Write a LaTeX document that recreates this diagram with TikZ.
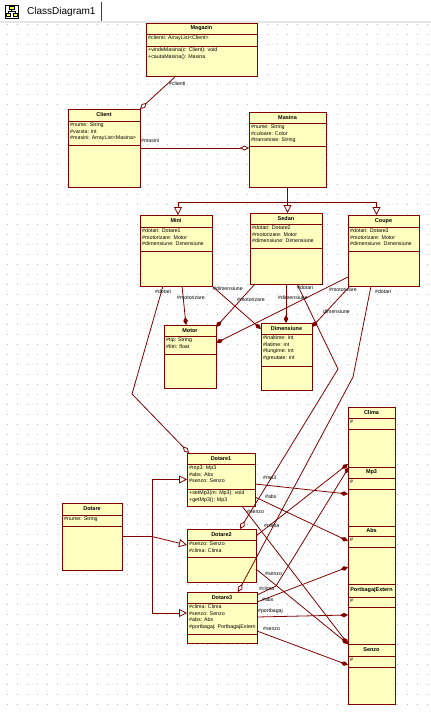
\documentclass[tikz,border=0pt]{standalone}
\usepackage{fontspec}
\setmainfont{Liberation Sans}
\usetikzlibrary{arrows.meta}
\definecolor{dred}{RGB}{128,0,0}
\definecolor{cfill}{RGB}{255,255,192}
\tikzset{
  cbox/.style={draw=dred, fill=cfill, line width=0.9pt, inner sep=0pt, outer sep=0pt},
  csep/.style={draw=dred, line width=0.9pt},
  ctitle/.style={font=\fontsize{5.5}{6.6}\selectfont\bfseries, inner sep=0pt},
  ctext/.style={font=\fontsize{5.3}{6.6}\selectfont, inner sep=0pt, align=left, anchor=north west},
  conn/.style={draw=dred, line width=0.8pt},
  agg/.style={conn, -{Diamond[length=9pt,width=5pt,fill=white]}},
  comp/.style={conn, -{Diamond[length=8pt,width=4.5pt]}},
  gen/.style={conn, -{Triangle[length=8pt,width=8pt,fill=white]}},
  lbl/.style={font=\fontsize{5.2}{6}\selectfont, inner sep=0pt, anchor=west},
}
% name, x/y of top-left, width, height, title sep, attr sep, title, attrs, methods
\newcommand\uclass[9]{%
  \node[cbox, minimum width=#3pt, minimum height=#4pt, anchor=north west] (#1) at (#2) {};
  \draw[csep] ([yshift=-#5pt]#1.north west) -- ([yshift=-#5pt]#1.north east);
  \draw[csep] ([yshift=-#6pt]#1.north west) -- ([yshift=-#6pt]#1.north east);
  \node[ctitle] (#1-t) at ([yshift={-0.5*#5pt}]#1.north) {#7};
  \node[ctext] (#1-a) at ([xshift=2pt,yshift={-#5pt-1.6pt}]#1.north west) {#8};
  \node[ctext] (#1-m) at ([xshift=2pt,yshift={-#6pt-1.6pt}]#1.north west) {#9};
}
\begin{document}
\begin{tikzpicture}[x=1pt,y=-1pt]
\useasboundingbox (0,0) rectangle (431,713);
\fill[white] (0,0) rectangle (431,713);
% grid
\foreach \gx in {7,17,...,427}{\foreach \gy in {24,34,...,704}{\fill[gray!50] (\gx,\gy) rectangle ++(1,1);}}
% tab bar
\fill[gray!20] (0,21) rectangle (431,22.5);
\draw[black!75, line width=0.8pt] (101,2) -- (101,21);
\draw[black, line width=0.6pt, fill=white] (5,5) rectangle (18,18);
\draw[black, line width=0.4pt] (11.5,9) -- (11.5,11) (8,11) -- (15,11) (8,11) -- (8,13) (15,11) -- (15,13);
\draw[black, line width=0.4pt, fill=yellow!70] (9,6.5) rectangle (14,9) (6,13) rectangle (10,16) (13,13) rectangle (17,16);
\node[anchor=west, font=\fontsize{10}{12}\selectfont, inner sep=0pt] (tab) at (27,11.5) {ClassDiagram1};

% classes
\uclass{Magazin}{146,23}{111}{53}{11}{23}{Magazin}{\#clienti: ArrayList<Client>}{+vindeMasina(c: Client): void\\+cautaMasina(): Masina}
\uclass{Client}{68,109}{72}{78}{12}{36}{Client}{\#nume: String\\\#varsta: int\\\#masini: ArrayList<Masina>}{}
\uclass{Masina}{249,112}{77}{75}{11}{34}{Masina}{\#nume: String\\\#culoare: Color\\\#transmisie: String}{}
\uclass{Mini}{140,215}{72}{71}{12}{36}{Mini}{\#dotari: Dotare1\\\#motorizare: Motor\\\#dimensiune: Dimensiune}{}
\uclass{Sedan}{250,213}{72}{71}{11}{35}{Sedan}{\#dotari: Dotare2\\\#motorizare: Motor\\\#dimensiune: Dimensiune}{}
\uclass{Coupe}{348,215}{71}{71}{12}{36}{Coupe}{\#dotari: Dotare3\\\#motorizare: Motor\\\#dimensiune: Dimensiune}{}
\uclass{Motor}{164,325}{52}{63}{11}{29}{Motor}{\#tip: String\\\#litri: float}{}
\uclass{Dimensiune}{261,323}{51}{67}{11}{43}{Dimensiune}{\#inaltime: int\\\#latime: int\\\#lungime: int\\\#greutate: int}{}
\uclass{Dotare}{62,503}{60}{67}{12}{23}{Dotare}{\#nume: String}{}
\uclass{Dotare1}{187,453}{68}{53}{11}{36}{Dotare1}{\#mp3: Mp3\\\#abs: Abs\\\#senzo: Senzo}{+setMp3(m: Mp3): void\\+getMp3(): Mp3}
\uclass{Dotare2}{187,529}{69}{53}{11}{28}{Dotare2}{\#senzo: Senzo\\\#clima: Clima}{}
\uclass{Dotare3}{187,592}{70}{51}{11}{42}{Dotare3}{\#clima: Clima\\\#senzo: Senzo\\\#abs: Abs\\\#portbagaj: PortbagajExtern}{}
\uclass{Clima}{348,407}{47}{60}{11}{22}{Clima}{\#}{}
\uclass{Mp3}{348,467}{47}{59}{11}{22}{Mp3}{\#}{}
\uclass{Abs}{348,526}{47}{58}{10}{21}{Abs}{\#}{}
\uclass{Portb}{348,584}{47}{60}{13}{23}{PortbagajExtern}{\#}{}
\uclass{Senzo}{348,644}{47}{60}{12}{23}{Senzo}{\#}{}

% Magazin / Client / Masina
\draw[agg] ([xshift=30pt]Magazin.south west) -- (Client.north east);
\draw[agg] (Client.east) -- (Client.east -| Masina.west);
% generalization Masina
\draw[gen] (Masina.south) -- ++(0,15) -| ([xshift=2pt]Mini.north);
\draw[gen] (Masina.south) -- (Masina.south |- Sedan.north);
\draw[gen] (Masina.south) -- ++(0,15) -| ([xshift=-7pt]Coupe.north);
% Mini
\draw[agg] ([xshift=23pt]Mini.south west) -- (132,394) -- ([xshift=2pt]Dotare1.north west);
\draw[comp] ([xshift=42pt]Mini.south west) -- ([xshift=22pt]Motor.north west);
\draw[comp] (Mini.south east) -- ([yshift=-6pt]Dimensiune.north west);
% Sedan
\draw[comp] ([xshift=5pt]Sedan.south west) -- ([yshift=-2pt]Motor.north east);
\draw[comp] (Sedan.south) -- (Sedan.south |- Dimensiune.north);
\draw[agg] ([xshift=47pt]Sedan.south west) -- (338,369) -- ([xshift=53pt]Dotare2.north west);
% Coupe
\draw[comp] ([yshift=9pt]Coupe.south west) -- ([yshift=-18pt]Motor.north east);
\draw[comp] ([xshift=2pt]Coupe.south west) -- ([yshift=-4pt]Dimensiune.north east);
\draw[agg] ([xshift=23pt]Coupe.south west) -- (353,377) -- ([xshift=51pt]Dotare3.north west);
% Dotare generalization
\draw[conn] (Dotare.east) -- ++(30,0) coordinate (dj);
\draw[gen] (dj) |- (Dotare1.west);
\draw[gen] (dj) -- ([yshift=-16pt]Dotare2.north west);
\draw[gen] (dj) |- ([yshift=-21pt]Dotare3.north west);
% compositions
\draw[comp] ([yshift=-31pt]Dotare1.north east) -- ([yshift=-27pt]Mp3.north west);
\draw[comp] ([yshift=-44pt]Dotare1.north east) -- ([yshift=-15pt]Abs.north west);
\draw[comp] ([xshift=55pt]Dotare1.south west) -- (Senzo.north west);
\draw[comp] ([yshift=-7pt]Dotare2.north east) -- ([yshift=3pt]Clima.south west);
\draw[comp] ([yshift=-40pt]Dotare2.north east) -- (Senzo.north west);
\draw[comp] ([yshift=-3pt]Dotare3.north east) -- (276,586) -- ([xshift=1pt]Clima.south west);
\draw[comp] ([yshift=-10pt]Dotare3.north east) -- ([yshift=-41pt]Abs.north west);
\draw[comp] ([yshift=-25pt]Dotare3.north east) -- ([yshift=-31pt]Portb.north west);
\draw[comp] ([yshift=-39pt]Dotare3.north east) -- ([yshift=-21pt]Senzo.north west);

% labels
\node[lbl] (l1) at (169,84) {\#clienti};
\node[lbl] (l2) at (141,141) {\#masini};
\node[lbl] (l3) at (155,292) {\#dotari};
\node[lbl] (l4) at (177,298) {\#motorizare};
\node[lbl] (l5) at (213,289) {\#dimensiune};
\node[lbl] (l6) at (237,300) {\#motorizare};
\node[lbl] (l7) at (278,298) {\#dimensiune};
\node[lbl] (l8) at (297,288) {\#dotari};
\node[lbl] (l9) at (329,290) {\#motorizare};
\node[lbl] (l10) at (323,312) {dimensiune};
\node[lbl] (l11) at (375,292) {\#dotari};
\node[lbl] (l12) at (263,478) {\#mp3};
\node[lbl] (l13) at (265,497) {\#abs};
\node[lbl] (l14) at (247,512) {\#senzo};
\node[lbl] (l15) at (264,526) {\#clima};
\node[lbl] (l16) at (265,574) {\#senzo};
\node[lbl] (l17) at (259,589) {\#clima};
\node[lbl] (l18) at (262,600) {\#abs};
\node[lbl] (l19) at (258,611) {\#portbagaj};
\node[lbl] (l20) at (263,629) {\#senzo};
\end{tikzpicture}
\end{document}
